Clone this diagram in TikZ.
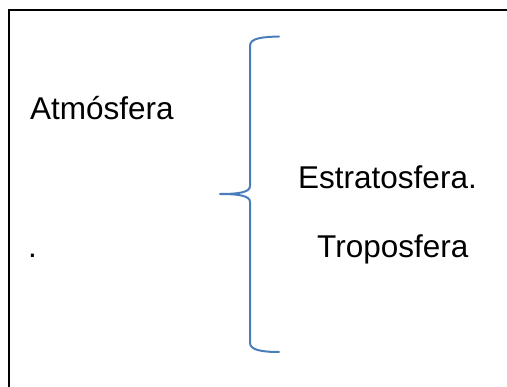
\documentclass[tikz,border=0pt]{standalone}
\usepackage{fontspec}
\setmainfont{Liberation Sans}
\definecolor{bracecol}{HTML}{4A7EBB}
\begin{document}
\begin{tikzpicture}[x=1pt,y=-1pt,
  label text/.style={inner sep=0pt,anchor=base west,font=\fontsize{31.5}{38}\selectfont},
  brace line/.style={draw=bracecol,line width=2pt,line cap=round,line join=round},
  frame line/.style={draw=black,line width=2pt}]
  \useasboundingbox (0,0) rectangle (507,387);
  % frame of the text box (only its top and left sides fall inside the page)
  \draw[frame line] (9,390) -- (9,10) -- (510,10);
  % labels
  \node[label text] (atm) at (30,120) {Atmósfera};
  \node[label text] (dot) at (28,258) {.};
  \node[label text] (estr) at (298,189) {Estratosfera.};
  \node[label text] (trop) at (317,258) {Troposfera};
  % curly brace
  \coordinate (btop) at (279,36.5);
  \coordinate (btip) at (220,194);
  \coordinate (bbot) at (279,352);
  \draw[brace line] (btop) .. controls (262,37) and (250,38) .. (250,46)
    -- (250,186) .. controls (250,192) and (240,194) .. (btip)
    .. controls (240,194) and (250,196) .. (250,202)
    -- (250,343) .. controls (250,350) and (262,352) .. (bbot);
\end{tikzpicture}
\end{document}
